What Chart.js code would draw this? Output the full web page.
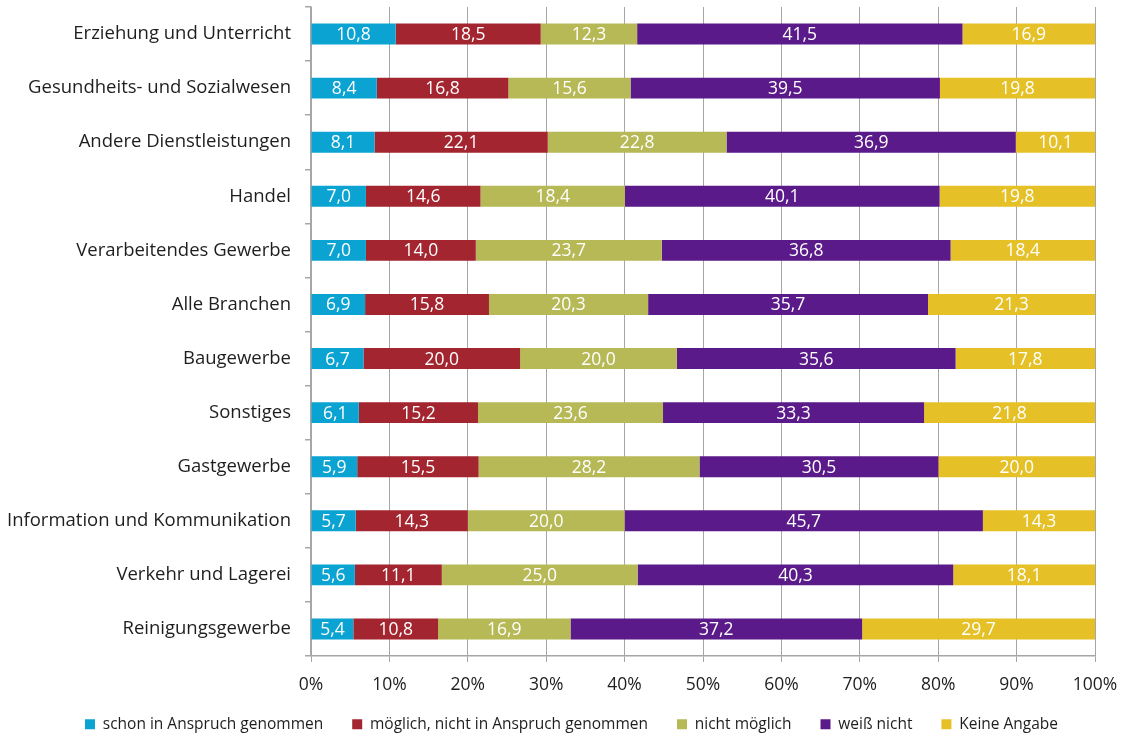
<!DOCTYPE html>
<html><head><meta charset="utf-8">
<script src="https://cdn.jsdelivr.net/npm/chart.js@4/dist/chart.umd.min.js"></script>
<style>html,body{margin:0;padding:0;background:#fff}#w{width:1121px;height:734px}</style>
</head><body><div id="w"><canvas id="c"></canvas></div>
<script>
const categories = ["Erziehung und Unterricht","Gesundheits- und Sozialwesen","Andere Dienstleistungen","Handel","Verarbeitendes Gewerbe","Alle Branchen","Baugewerbe","Sonstiges","Gastgewerbe","Information und Kommunikation","Verkehr und Lagerei","Reinigungsgewerbe"];
const seriesNames = ["schon in Anspruch genommen","möglich, nicht in Anspruch genommen","nicht möglich","weiß nicht","Keine Angabe"];
const schon   = [10.8, 8.4, 8.1, 7.0, 7.0, 6.9, 6.7, 6.1, 5.9, 5.7, 5.6, 5.4];
const moeglich= [18.5,16.8,22.1,14.6,14.0,15.8,20.0,15.2,15.5,14.3,11.1,10.8];
const nicht   = [12.3,15.6,22.8,18.4,23.7,20.3,20.0,23.6,28.2,20.0,25.0,16.9];
const weiss   = [41.5,39.5,36.9,40.1,36.8,35.7,35.6,33.3,30.5,45.7,40.3,37.2];
const keine   = [16.9,19.8,10.1,19.8,18.4,21.3,17.8,21.8,20.0,14.3,18.1,29.7];
const tickValues = [0,10,20,30,40,50,60,70,80,90,100];
const colors = ["#0ba3d2","#a2252f","#b6b955","#5b1a89","#e5c127"];
const FONT = "'Open Sans'";
const TXT = "#1e1e1e";
const values = [schon, moeglich, nicht, weiss, keine];
// 100% stacked: each row scaled to its total (as in the original chart type)
const rowTotals = categories.map((_, j) => values.reduce((s, arr) => s + arr[j], 0));
const shares = values.map(arr => arr.map((v, j) => v / rowTotals[j] * 100));

const labelPlugin = {
  id: 'vals',
  afterDatasetsDraw(chart){
    const ctx = chart.ctx;
    ctx.save();
    ctx.font = "17.5px " + FONT;
    ctx.fillStyle = "#fff";
    ctx.textAlign = "center";
    ctx.textBaseline = "middle";
    chart.data.datasets.forEach((ds, i) => {
      chart.getDatasetMeta(i).data.forEach((el, j) => {
        const v = values[i][j];
        ctx.fillText(v.toFixed(1).replace('.', ','), (el.x + el.base)/2, el.y + 1);
      });
    });
    ctx.restore();
  }
};

new Chart(document.getElementById('c'), {
  type: 'bar',
  data: {
    labels: categories,
    datasets: seriesNames.map((n,i)=>({label:n, data:shares[i], backgroundColor:colors[i], borderWidth:0, barPercentage:0.9, categoryPercentage:0.43}))
  },
  options: {
    indexAxis: 'y',
    responsive: true,
    maintainAspectRatio: false,
    animation: false,
    layout: {padding: {top: 7, right: 26, left: 56, bottom: -8}},
    plugins: {
      tooltip: {enabled:false},
      legend: {
        position: 'bottom',
        align: 'start',
        labels: {font:{family:FONT, size:15.5}, color:TXT, boxWidth:10, boxHeight:10, padding:29}
      }
    },
    scales: {
      x: {
        stacked: true, min: 0, max: 100,
        afterBuildTicks(s){ s.ticks = tickValues.map(v=>({value:v})); },
        afterFit(s){ s.height = 31.5; s.paddingLeft = 0; s.paddingRight = 0; s._computeLabelArea = () => undefined; },
        ticks: {callback: v => v + '%', font:{family:FONT, size:17.5}, color:TXT, padding:13, maxRotation:0},
        grid: {color:'#a6a6a6', lineWidth:1, tickLength:6, drawTicks:true},
        border: {display:true, color:'#a6a6a6', width:1.5}
      },
      y: {
        stacked: true,
        afterFit(s){ s.width = 255; s.paddingTop = 0; s.paddingBottom = 0; s._computeLabelArea = () => undefined; },
        ticks: {font:{family:FONT, size:18.5}, color:TXT, padding:14},
        grid: {drawOnChartArea:false, color:'#a6a6a6', lineWidth:1.5, tickLength:6, offset:true},
        border: {display:true, color:'#a6a6a6', width:1.5}
      }
    }
  },
  plugins: [labelPlugin]
});
</script>
</body></html>
